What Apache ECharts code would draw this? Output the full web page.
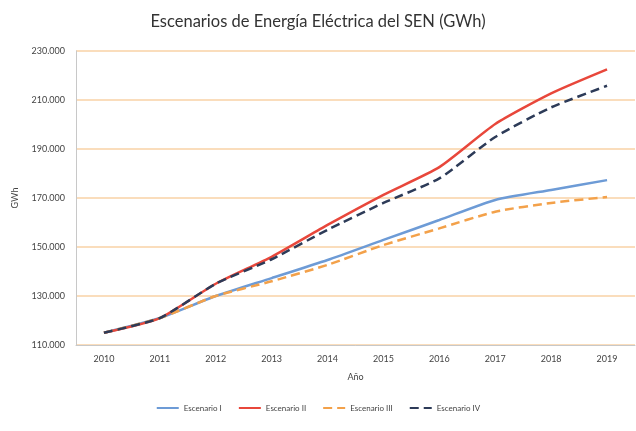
<!DOCTYPE html>
<html>
<head>
<meta charset="utf-8">
<script src="https://cdn.jsdelivr.net/npm/echarts@6/dist/echarts.min.js"></script>
<style>
  html, body { margin: 0; padding: 0; background: #fff; }
  #chart { width: 636px; height: 431px; }
</style>
</head>
<body>
<div id="chart"></div>
<script>
// años y escenarios (GWh)
var years = ['2010', '2011', '2012', '2013', '2014', '2015', '2016', '2017', '2018', '2019'];
var escenarioI   = [115000, 121000, 130000, 137300, 144700, 152900, 161000, 169200, 173300, 177300];
var escenarioII  = [115000, 121000, 135000, 146000, 159000, 171300, 182600, 200200, 212700, 222500];
var escenarioIII = [115000, 121000, 130000, 136000, 142700, 150800, 157600, 164400, 168000, 170400];
var escenarioIV  = [115000, 121000, 135000, 145000, 157000, 168000, 178000, 194900, 207000, 215800];

var myChart = echarts.init(document.getElementById('chart'));

function fmt(v) {
    // 230000 -> 230.000
    return String(v).replace(/\B(?=(\d{3})+(?!\d))/g, '.');
}

function serie(name, data, color, dashed) {
    return {
        name: name,
        type: 'line',
        data: data,
        smooth: 0.2,
        symbol: 'none',
        lineStyle: { color: color, width: 2.5, type: dashed ? [9, 5] : 'solid' },
        itemStyle: { color: color }
    };
}

var option = {
    animation: false,
    textStyle: { fontFamily: 'Lato' },
    title: {
        text: 'Escenarios de Energía Eléctrica del SEN (GWh)',
        left: 'center',
        top: 8,
        textStyle: { fontSize: 16.5, fontWeight: 'normal', color: '#333', fontFamily: 'Lato' }
    },
    grid: { left: 76, right: 1, top: 51, bottom: 86 },
    legend: {
        bottom: 14,
        left: 'center',
        itemWidth: 22,
        itemHeight: 6,
        itemGap: 16,
        itemStyle: { opacity: 0 },
        textStyle: { fontSize: 8, color: '#444' },
        data: ['Escenario I', 'Escenario II', 'Escenario III', 'Escenario IV']
    },
    xAxis: {
        type: 'category',
        data: years,
        name: 'Año',
        nameLocation: 'middle',
        nameGap: 28,
        nameTextStyle: { fontSize: 9, color: '#444' },
        axisLine: { lineStyle: { color: '#c8c8c8' } },
        axisTick: { lineStyle: { color: '#c8c8c8' }, length: 4 },
        axisLabel: { fontSize: 9, color: '#444', margin: 10 }
    },
    yAxis: {
        type: 'value',
        min: 110000,
        max: 230000,
        interval: 20000,
        name: 'GWh',
        nameLocation: 'middle',
        nameGap: 56,
        nameRotate: 90,
        nameTextStyle: { fontSize: 9, color: '#444' },
        axisLine: { show: true, lineStyle: { color: '#c8c8c8' } },
        axisTick: { show: false },
        axisLabel: { fontSize: 9, color: '#444', margin: 11, formatter: fmt },
        splitLine: { lineStyle: { color: '#f9d2a6', width: 1.5 } }
    },
    series: [
        serie('Escenario I', escenarioI, '#6d9bd6', false),
        serie('Escenario II', escenarioII, '#e8473b', false),
        serie('Escenario III', escenarioIII, '#f3a14a', true),
        serie('Escenario IV', escenarioIV, '#2d3b58', true)
    ]
};

myChart.setOption(option);
</script>
</body>
</html>
